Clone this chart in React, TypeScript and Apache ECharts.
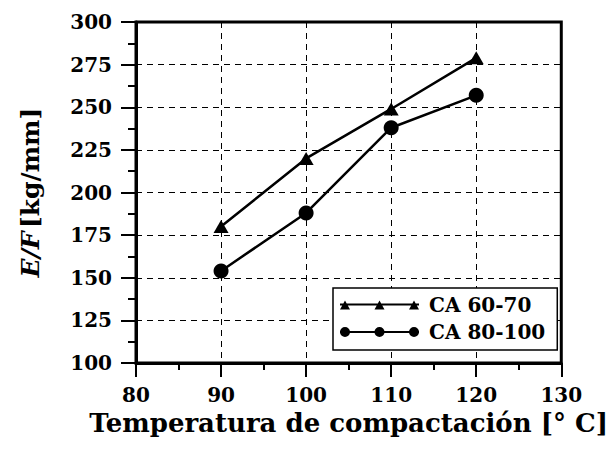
import React, { useEffect, useRef } from "react";
import * as echarts from "echarts";

const temperatures = [90, 100, 110, 120];
const ca6070 = [180, 220, 249, 279];
const ca80100 = [154, 188, 238, 257];
const seriesNames = ["CA 60-70", "CA 80-100"];
const xTitle = "Temperatura de compactación [° C]";

const FONT = "DejaVu Serif";

const triIcon =
  "path://M0 3 L79 3 L79 5 L0 5 Z M0 9 L5 0 L10 9 Z M34.5 9 L39.5 0 L44.5 9 Z M69 9 L74 0 L79 9 Z";
const circIcon =
  "path://M0 4 L79 4 L79 6 L0 6 Z M0 5 A5 5 0 1 1 10 5 A5 5 0 1 1 0 5 Z M34.5 5 A5 5 0 1 1 44.5 5 A5 5 0 1 1 34.5 5 Z M69 5 A5 5 0 1 1 79 5 A5 5 0 1 1 69 5 Z";

export default function App() {
  const ref = useRef<HTMLDivElement>(null);
  useEffect(() => {
    if (!ref.current) return;
    const chart = echarts.init(ref.current, null, { renderer: "svg" });
    chart.setOption({
      animation: false,
      backgroundColor: "#fff",
      grid: {
        left: 136,
        right: 46,
        top: 22,
        bottom: 87,
        show: true,
        borderColor: "#000",
        borderWidth: 3,
        backgroundColor: "transparent",
      },
      xAxis: {
        type: "value",
        min: 80,
        max: 130,
        interval: 10,
        name: xTitle,
        nameLocation: "middle",
        nameGap: 39,
        nameTextStyle: { fontFamily: FONT, fontWeight: "bold", fontSize: 26, color: "#000" },
        axisLine: { show: true, lineStyle: { color: "#000", width: 3 } },
        axisTick: { show: true, inside: false, length: 14, lineStyle: { color: "#000", width: 2 } },
        minorTick: { show: true, splitNumber: 2, length: 7, lineStyle: { color: "#000", width: 2 } },
        axisLabel: { fontFamily: FONT, fontWeight: "bold", fontSize: 20, color: "#000", margin: 22 },
        splitLine: { show: true, lineStyle: { color: "#000", width: 1, type: [6, 5] } },
      },
      yAxis: {
        type: "value",
        min: 100,
        max: 300,
        interval: 25,
        name: "{i|E/F} {n|[kg/mm]}",
        nameLocation: "middle",
        nameRotate: 90,
        nameGap: 93,
        nameTextStyle: {
          color: "#000",
          rich: {
            i: { fontFamily: FONT, fontWeight: "bold", fontStyle: "italic", fontSize: 25, color: "#000" },
            n: { fontFamily: FONT, fontWeight: "bold", fontSize: 25, color: "#000" },
          },
        },
        axisLine: { show: true, lineStyle: { color: "#000", width: 3 } },
        axisTick: { show: true, inside: false, length: 15, lineStyle: { color: "#000", width: 2 } },
        minorTick: { show: true, splitNumber: 2, length: 8, lineStyle: { color: "#000", width: 2 } },
        axisLabel: { fontFamily: FONT, fontWeight: "bold", fontSize: 20, color: "#000", margin: 24 },
        splitLine: { show: true, lineStyle: { color: "#000", width: 1, type: [6, 5] } },
      },
      legend: {
        orient: "vertical",
        left: 333,
        top: 288,
        width: 226,
        padding: [7, 12, 8, 7],
        itemGap: 7,
        itemWidth: 79,
        itemHeight: 10,
        backgroundColor: "#fff",
        borderColor: "#000",
        borderWidth: 1.5,
        borderRadius: 0,
        textStyle: {
          fontFamily: FONT,
          fontWeight: "bold",
          fontSize: 20,
          lineHeight: 20,
          color: "#000",
          padding: [0, 0, 0, 5],
        },
        data: [
          { name: seriesNames[0], icon: triIcon, itemStyle: { color: "#000" } },
          { name: seriesNames[1], icon: circIcon, itemStyle: { color: "#000" } },
        ],
      },
      series: [
        {
          name: seriesNames[0],
          type: "line",
          data: temperatures.map((t, i) => [t, ca6070[i]]),
          symbol: "triangle",
          symbolSize: [15, 13],
          itemStyle: { color: "#000" },
          lineStyle: { color: "#000", width: 2.5 },
          z: 5,
        },
        {
          name: seriesNames[1],
          type: "line",
          data: temperatures.map((t, i) => [t, ca80100[i]]),
          symbol: "circle",
          symbolSize: 15,
          itemStyle: { color: "#000" },
          lineStyle: { color: "#000", width: 2.5 },
          z: 5,
        },
      ],
    });
    return () => chart.dispose();
  }, []);
  return (
    <div
      ref={ref}
      style={{ position: "fixed", left: 0, top: 0, width: 611, height: 450, background: "#fff" }}
    />
  );
}
